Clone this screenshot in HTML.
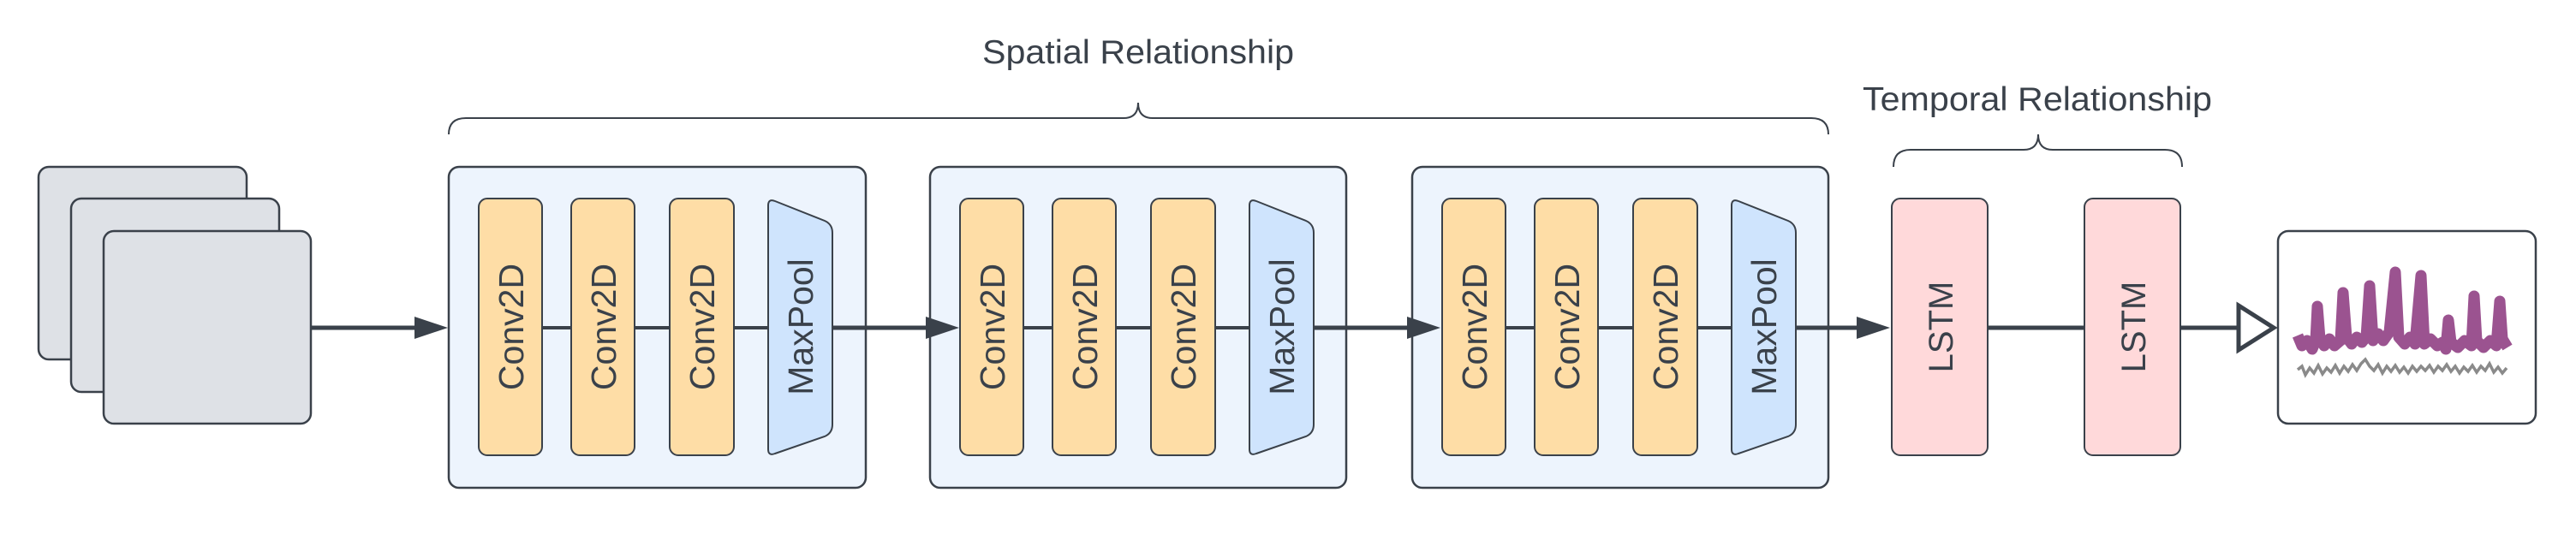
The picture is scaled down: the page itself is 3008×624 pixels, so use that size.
<!DOCTYPE html>
<html><head><meta charset="utf-8"><style>html,body{margin:0;padding:0;background:#fff;}svg{display:block}</style></head>
<body>
<svg width="3008" height="624" viewBox="0 0 3008 624" xmlns="http://www.w3.org/2000/svg" font-family="Liberation Sans, sans-serif">
<rect width="3008" height="624" fill="#fff"/>
<g stroke="#3a414a" stroke-width="2.5" fill="#dee1e6">
<rect x="45" y="195" width="243" height="225" rx="12"/>
<rect x="83" y="232" width="243" height="226" rx="12"/>
<rect x="121" y="270" width="242" height="225" rx="12"/>
</g>
<text x="1329" y="74" font-size="39" fill="#3a414a" text-anchor="middle" textLength="364" lengthAdjust="spacingAndGlyphs">Spatial Relationship</text>
<text x="2379" y="129" font-size="39" fill="#3a414a" text-anchor="middle" textLength="408" lengthAdjust="spacingAndGlyphs">Temporal Relationship</text>
<g fill="none" stroke="#3a414a" stroke-width="2">
<path d="M524 157 Q524 138 544 138 L1312 138 Q1329 138 1329 120 Q1329 138 1346 138 L2115 138 Q2135 138 2135 157"/>
<path d="M2211 195 Q2211 175 2231 175 L2363 175 Q2380 175 2380 157 Q2380 175 2397 175 L2528 175 Q2548 175 2548 195"/>
</g>
<g stroke="#3a414a" stroke-width="5" fill="none">
<line x1="363" y1="383" x2="490" y2="383"/>
</g>
<g stroke="#3a414a" stroke-width="2.5" fill="#edf4fd">
<rect x="524" y="195" width="487" height="375" rx="12"/>
<rect x="1086" y="195" width="486" height="375" rx="12"/>
<rect x="1649" y="195" width="486" height="375" rx="12"/>
</g>
<g stroke="#3a414a" stroke-width="5" fill="none">
<line x1="972" y1="383" x2="1085" y2="383"/>
<line x1="1534" y1="383" x2="1648" y2="383"/>
<line x1="2097" y1="383" x2="2170" y2="383"/>
</g>
<g fill="#3a414a">
<polygon points="484,370 523,383 484,396"/>
<polygon points="1081,370 1120,383 1081,396"/>
<polygon points="1643,370 1682,383 1643,396"/>
<polygon points="2168,370 2207,383 2168,396"/>
</g>
<g id="blk">
<g stroke="#3a414a" stroke-width="4"><line x1="559" y1="383" x2="897" y2="383"/></g>
<g stroke="#3a414a" stroke-width="2" fill="#fedda6">
<rect x="559" y="232" width="74" height="300" rx="10"/>
<rect x="667" y="232" width="74" height="300" rx="10"/>
<rect x="782" y="232" width="75" height="300" rx="10"/>
</g>
<path d="M897 240 Q897 232 905 235 L963 258 Q972 262 972 272 L972 496 Q972 506 963 510 L905 530 Q897 533 897 525 Z" fill="#cfe4fd" stroke="#3a414a" stroke-width="2"/>
<g font-size="41" fill="#3a414a" text-anchor="middle">
<text transform="translate(611,382) rotate(-90)">Conv2D</text>
<text transform="translate(719,382) rotate(-90)">Conv2D</text>
<text transform="translate(834,382) rotate(-90)">Conv2D</text>
<text transform="translate(949,382) rotate(-90)">MaxPool</text>
</g>
</g>
<use href="#blk" x="562"/>
<use href="#blk" x="1125"/>
<line x1="2321" y1="383" x2="2434" y2="383" stroke="#3a414a" stroke-width="5"/>
<line x1="2546" y1="383" x2="2614" y2="383" stroke="#3a414a" stroke-width="5"/>
<g stroke="#3a414a" stroke-width="2" fill="#ffd9da">
<rect x="2209" y="232" width="112" height="300" rx="10"/>
<rect x="2434" y="232" width="112" height="300" rx="10"/>
</g>
<g font-size="40" fill="#3a414a" text-anchor="middle">
<text transform="translate(2280,382) rotate(-90)">LSTM</text>
<text transform="translate(2505,382) rotate(-90)">LSTM</text>
</g>
<polygon points="2614,357 2655,383 2614,409" fill="#fff" stroke="#3a414a" stroke-width="5"/>
<rect x="2660" y="270" width="301" height="225" rx="12" fill="#fff" stroke="#3a414a" stroke-width="2.5"/>
<polyline fill="none" stroke="#8a8a8a" stroke-width="3.5" points="2683,432 2688,428 2692,438 2697,430 2702,436 2707,427 2712,437 2717,430 2722,435 2727,427 2732,436 2737,428 2742,434 2747,426 2752,433 2757,425 2762,420 2767,428 2772,433 2777,426 2782,436 2787,428 2792,434 2797,427 2802,435 2807,429 2812,436 2817,428 2822,434 2827,428 2832,433 2837,427 2842,435 2847,428 2852,433 2857,426 2862,434 2867,428 2872,436 2877,429 2882,434 2887,427 2892,435 2897,428 2902,433 2907,425 2912,435 2917,429 2922,436 2927,430"/>
<polyline fill="none" stroke="#9b5390" stroke-width="13" stroke-linejoin="round" points="2683,392 2688,404 2694,398 2700,408 2704,398 2706,358 2709,396 2714,404 2720,396 2726,404 2733,398 2736,342 2740,394 2746,402 2752,394 2758,400 2763,394 2767,334 2771,398 2777,390 2783,398 2790,388 2797,318 2801,394 2808,402 2814,394 2820,402 2827,322 2831,402 2838,396 2846,404 2852,400 2856,408 2859,374 2862,400 2870,406 2878,398 2886,404 2889,346 2892,398 2900,406 2908,398 2915,404 2919,352 2922,396 2928,406"/>
</svg>
</body></html>
